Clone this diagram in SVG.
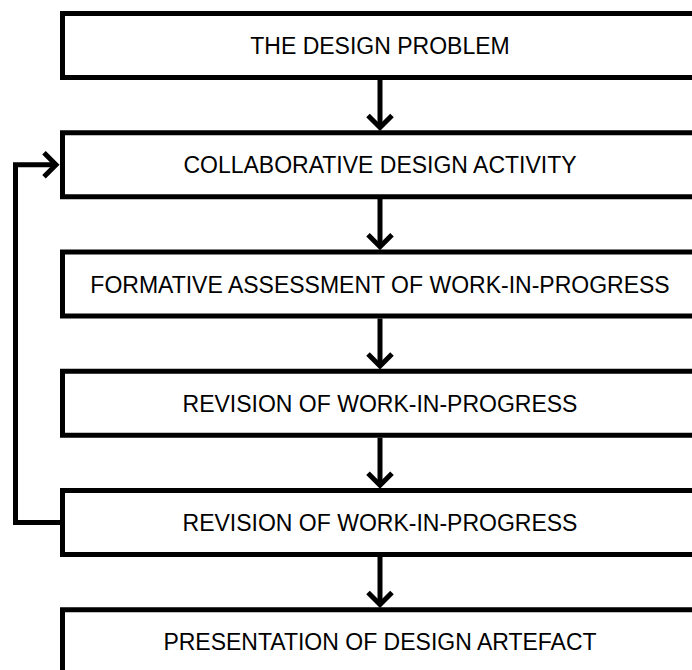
<svg xmlns="http://www.w3.org/2000/svg" width="692" height="670" viewBox="0 0 692 670">
<style>
.box{fill:#fff;stroke:#000;stroke-width:5}
.lbl{font-family:"Liberation Sans",Arial,sans-serif;font-size:23px;fill:#000;text-anchor:middle}
.ln{fill:none;stroke:#000;stroke-width:5;stroke-linejoin:miter;stroke-linecap:butt}
</style>
<rect width="692" height="670" fill="#fff"/>
<g id="n1"><rect class="box" x="62.5" y="13.5" width="660" height="64"/><text class="lbl" x="380" y="54">THE DESIGN PROBLEM</text></g>
<g id="n2"><rect class="box" x="62.5" y="132.75" width="660" height="64"/><text class="lbl" x="380" y="173.25">COLLABORATIVE DESIGN ACTIVITY</text></g>
<g id="n3"><rect class="box" x="62.5" y="252" width="660" height="64"/><text class="lbl" x="380" y="292.5">FORMATIVE ASSESSMENT OF WORK-IN-PROGRESS</text></g>
<g id="n4"><rect class="box" x="62.5" y="371.25" width="660" height="64"/><text class="lbl" x="380" y="411.75">REVISION OF WORK-IN-PROGRESS</text></g>
<g id="n5"><rect class="box" x="62.5" y="490.5" width="660" height="64"/><text class="lbl" x="380" y="531">REVISION OF WORK-IN-PROGRESS</text></g>
<g id="n6"><rect class="box" x="62.5" y="609.75" width="660" height="100"/><text class="lbl" x="380" y="650.25">PRESENTATION OF DESIGN ARTEFACT</text></g>
<g id="connectors">
<line class="ln" x1="380" y1="80" x2="380" y2="128"/><polyline class="ln" points="368,115.5 380,127.5 392,115.5"/>
<line class="ln" x1="380" y1="199" x2="380" y2="247"/><polyline class="ln" points="368,234.75 380,246.75 392,234.75"/>
<line class="ln" x1="380" y1="318.5" x2="380" y2="366"/><polyline class="ln" points="368,354 380,366 392,354"/>
<line class="ln" x1="380" y1="437.75" x2="380" y2="485"/><polyline class="ln" points="368,473.25 380,485.25 392,473.25"/>
<line class="ln" x1="380" y1="557" x2="380" y2="604"/><polyline class="ln" points="368,592.5 380,604.5 392,592.5"/>
<polyline class="ln" points="60,522.5 15.5,522.5 15.5,164.75 56,164.75"/>
<polyline class="ln" points="44,152.75 56,164.75 44,176.75"/>
</g>
</svg>
